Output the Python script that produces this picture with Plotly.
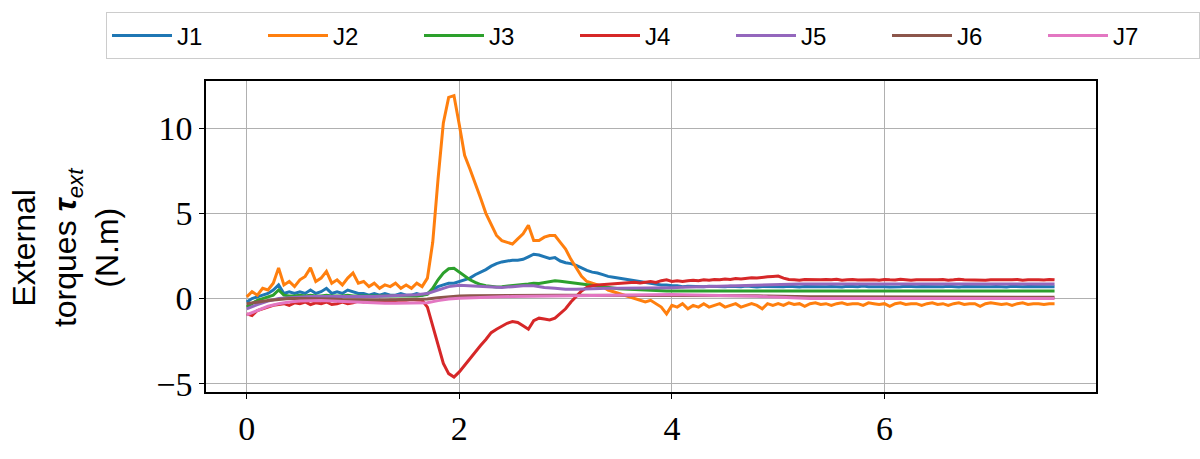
import plotly.graph_objects as go

# ---- data ----
series_names = ["J1", "J2", "J3", "J4", "J5", "J6", "J7"]
colors = ["#1f77b4", "#ff7f0e", "#2ca02c", "#d62728", "#9467bd", "#8c564b", "#e377c2"]

DT_FINE = 0.05    # sampling step of the noisy series (s)
DT_COARSE = 0.1   # sampling step of the smooth series (s)

J1 = [-0.2, 0.0, 0.1, 0.2, 0.3, 0.5, 0.8, 0.3, 0.4, 0.3,
      0.4, 0.3, 0.5, 0.3, 0.4, 0.6, 0.3, 0.4, 0.3, 0.5,
      0.4, 0.3, 0.3, 0.2, 0.3, 0.2, 0.3, 0.2, 0.2, 0.3,
      0.2, 0.2, 0.3, 0.2, 0.3, 0.5, 0.7, 0.8, 0.9, 0.9,
      1.0, 1.1, 1.2, 1.4, 1.55, 1.7, 1.9, 2.05, 2.15, 2.2,
      2.25, 2.25, 2.3, 2.45, 2.6, 2.55, 2.45, 2.35, 2.4, 2.2,
      2.1, 2.05, 1.95, 1.8, 1.65, 1.55, 1.5, 1.4, 1.3, 1.25,
      1.2, 1.15, 1.1, 1.05, 1.0, 0.95, 0.9, 0.85, 0.8, 0.8,
      0.75, 0.75, 0.7, 0.72, 0.7, 0.68, 0.7, 0.72, 0.7, 0.68,
      0.7, 0.72, 0.69, 0.7, 0.73, 0.7, 0.68, 0.71, 0.7, 0.72,
      0.7, 0.69, 0.72, 0.7, 0.68, 0.71, 0.7, 0.73, 0.7, 0.69,
      0.71, 0.7, 0.68, 0.72, 0.7, 0.7, 0.73, 0.69, 0.7, 0.71,
      0.7, 0.68, 0.71, 0.7, 0.72, 0.7, 0.69, 0.71, 0.7, 0.72,
      0.69, 0.7, 0.72, 0.7, 0.68, 0.71, 0.7, 0.7, 0.72, 0.69,
      0.7, 0.71, 0.7, 0.68, 0.72, 0.7, 0.69, 0.71, 0.7, 0.7,
      0.71, 0.7, 0.7]

J2 = [0.1, 0.4, 0.2, 0.6, 0.5, 0.9, 1.8, 0.8, 1.0, 0.7,
      1.1, 1.3, 1.8, 1.0, 1.2, 1.6, 0.9, 1.1, 0.8, 1.2,
      1.5, 0.9, 1.0, 0.7, 0.9, 0.6, 0.8, 0.7, 0.9, 0.6,
      0.8, 0.6, 0.9, 0.7, 1.2, 3.3, 7.0, 10.3, 11.8, 11.9,
      10.2, 8.4, 7.6, 6.8, 5.9, 5.0, 4.3, 3.7, 3.4, 3.3,
      3.2, 3.5, 3.8, 4.3, 3.4, 3.4, 3.6, 3.7, 3.7, 3.3,
      2.9, 2.3, 1.8, 1.3, 1.0, 0.9, 0.8, 0.7, 0.5, 0.4,
      0.3, 0.2, 0.1, 0.0, -0.1, -0.2, -0.1, -0.3, -0.5, -0.9,
      -0.4, -0.5, -0.3, -0.6, -0.4, -0.5, -0.3, -0.5, -0.4, -0.3,
      -0.5, -0.4, -0.3, -0.5, -0.4, -0.3, -0.4, -0.6, -0.3, -0.4,
      -0.3, -0.4, -0.25, -0.35, -0.3, -0.45, -0.3, -0.25, -0.35, -0.3,
      -0.4, -0.3, -0.25, -0.35, -0.3, -0.3, -0.4, -0.25, -0.3, -0.35,
      -0.3, -0.45, -0.3, -0.25, -0.35, -0.3, -0.3, -0.4, -0.3, -0.25,
      -0.35, -0.3, -0.4, -0.3, -0.25, -0.35, -0.3, -0.3, -0.45, -0.3,
      -0.25, -0.3, -0.35, -0.3, -0.4, -0.3, -0.25, -0.35, -0.3, -0.3,
      -0.35, -0.3, -0.3]

J3 = [-0.5, -0.3, -0.1, 0.0, 0.1, 0.2, 0.5, 0.2, 0.15, 0.15,
      0.2, 0.15, 0.2, 0.15, 0.15, 0.2, 0.15, 0.15, 0.15, 0.2,
      0.15, 0.15, 0.15, 0.15, 0.15, 0.15, 0.15, 0.15, 0.15, 0.15,
      0.15, 0.15, 0.15, 0.2, 0.25, 0.6, 1.1, 1.5, 1.75, 1.78,
      1.55, 1.3, 1.1, 0.95, 0.82, 0.75, 0.7, 0.68, 0.7, 0.72,
      0.75, 0.78, 0.82, 0.85, 0.9, 0.88, 0.95, 1.0, 1.05, 1.02,
      0.98, 0.92, 0.88, 0.82, 0.78, 0.75, 0.7, 0.66, 0.62, 0.6,
      0.58, 0.56, 0.54, 0.52, 0.5, 0.49, 0.48, 0.47, 0.46, 0.45,
      0.45, 0.43, 0.46, 0.44, 0.45, 0.47, 0.44, 0.45, 0.43, 0.46,
      0.45, 0.44, 0.46, 0.45, 0.43, 0.45, 0.47, 0.44, 0.45, 0.46,
      0.44, 0.45, 0.43, 0.46, 0.45, 0.44, 0.46, 0.45, 0.43, 0.45,
      0.46, 0.44, 0.45, 0.47, 0.44, 0.45, 0.43, 0.46, 0.45, 0.44,
      0.45, 0.46, 0.44, 0.45, 0.43, 0.45, 0.46, 0.44, 0.45, 0.47,
      0.44, 0.45, 0.46, 0.43, 0.45, 0.44, 0.46, 0.45, 0.44, 0.45,
      0.46, 0.44, 0.45, 0.43, 0.46, 0.45, 0.44, 0.45, 0.46, 0.44,
      0.45, 0.44, 0.45]

J4 = [-0.9, -1.0, -0.7, -0.6, -0.5, -0.4, -0.35, -0.3, -0.4, -0.25,
      -0.3, -0.2, -0.35, -0.25, -0.3, -0.2, -0.35, -0.3, -0.2, -0.3,
      -0.25, -0.15, -0.2, -0.15, -0.2, -0.1, -0.15, -0.1, -0.12, -0.08,
      -0.1, -0.05, -0.08, -0.1, -0.5, -1.6, -2.8, -3.8, -4.4, -4.6,
      -4.3, -3.9, -3.5, -3.1, -2.75, -2.4, -2.0, -1.8, -1.6, -1.45,
      -1.35, -1.4, -1.6, -1.8, -1.3, -1.15, -1.2, -1.25, -1.15, -0.9,
      -0.6, -0.2, 0.15, 0.45, 0.65, 0.75, 0.8, 0.82, 0.85, 0.85,
      0.88, 0.9, 0.9, 0.95, 0.92, 0.95, 1.0, 0.95, 1.05, 1.1,
      1.0, 1.05, 1.0, 1.05, 1.08, 1.05, 1.1, 1.08, 1.12, 1.1,
      1.15, 1.12, 1.18, 1.15, 1.2, 1.22, 1.2, 1.25, 1.28, 1.3,
      1.32, 1.2, 1.12, 1.1, 1.08, 1.12, 1.1, 1.08, 1.1, 1.12,
      1.1, 1.13, 1.08, 1.1, 1.12, 1.09, 1.1, 1.13, 1.1, 1.08,
      1.12, 1.1, 1.09, 1.13, 1.1, 1.08, 1.11, 1.1, 1.13, 1.09,
      1.1, 1.12, 1.08, 1.1, 1.13, 1.1, 1.09, 1.12, 1.1, 1.08,
      1.11, 1.1, 1.13, 1.09, 1.1, 1.12, 1.08, 1.1, 1.12, 1.1,
      1.09, 1.12, 1.1]

J5 = [-0.6, -0.35, -0.15, 0.0, 0.05, 0.1, 0.12, 0.12, 0.12, 0.1,
      0.1, 0.1, 0.12, 0.15, 0.17, 0.2, 0.22, 0.3, 0.5, 0.7,
      0.78, 0.75, 0.7, 0.65, 0.65, 0.7, 0.75, 0.75, 0.65, 0.6,
      0.55, 0.55, 0.58, 0.6, 0.6, 0.6, 0.6, 0.6, 0.6, 0.62,
      0.64, 0.66, 0.68, 0.7, 0.72, 0.74, 0.76, 0.78, 0.8, 0.83,
      0.85, 0.85, 0.85, 0.85, 0.85, 0.85, 0.85, 0.85, 0.85, 0.85,
      0.85, 0.85, 0.85, 0.85, 0.85, 0.85, 0.85, 0.85, 0.85, 0.85,
      0.85, 0.85, 0.85, 0.85, 0.85, 0.85, 0.85]

J6 = [-0.3, -0.2, -0.12, -0.05, 0.0, 0.0, 0.0, 0.0, -0.02, -0.05,
      -0.07, -0.08, -0.08, -0.08, -0.07, -0.06, -0.05, -0.02, 0.05, 0.12,
      0.15, 0.16, 0.17, 0.18, 0.18, 0.19, 0.2, 0.2, 0.2, 0.2,
      0.2, 0.2, 0.2, 0.2, 0.2, 0.2, 0.2, 0.2, 0.2, 0.2,
      0.2, 0.2, 0.19, 0.19, 0.18, 0.18, 0.17, 0.17, 0.16, 0.15,
      0.13, 0.12, 0.11, 0.1, 0.1, 0.1, 0.1, 0.1, 0.1, 0.1,
      0.1, 0.1, 0.09, 0.09, 0.09, 0.09, 0.08, 0.08, 0.08, 0.08,
      0.08, 0.08, 0.08, 0.08, 0.08, 0.08, 0.08]

J7 = [-0.95, -0.7, -0.45, -0.3, -0.2, -0.15, -0.12, -0.12, -0.15, -0.18,
      -0.2, -0.22, -0.25, -0.27, -0.28, -0.28, -0.28, -0.25, -0.12, -0.02,
      0.02, 0.05, 0.07, 0.08, 0.1, 0.12, 0.13, 0.15, 0.16, 0.17,
      0.18, 0.19, 0.2, 0.21, 0.22, 0.23, 0.24, 0.25, 0.25, 0.25,
      0.24, 0.23, 0.22, 0.21, 0.2, 0.19, 0.18, 0.17, 0.14, 0.1,
      0.07, 0.04, 0.02, 0.01, 0.0, 0.0, 0.0, 0.0, 0.0, 0.0,
      0.0, 0.0, 0.0, 0.0, 0.0, 0.0, 0.0, 0.0, 0.0, 0.0,
      0.0, 0.0, 0.0, 0.0, 0.0, 0.0, 0.0]

x_ticks = [0, 2, 4, 6]
y_ticks = [-5, 0, 5, 10]

all_series = [(J1, DT_FINE), (J2, DT_FINE), (J3, DT_FINE), (J4, DT_FINE),
              (J5, DT_COARSE), (J6, DT_COARSE), (J7, DT_COARSE)]

# ---- figure ----
fig = go.Figure()
for name, color, (vals, dt) in zip(series_names, colors, all_series):
    t = [round(i * dt, 3) for i in range(len(vals))]
    fig.add_trace(go.Scatter(x=t, y=vals, mode="lines", name=name,
                             line=dict(color=color, width=3)))

tick_font = dict(family="Liberation Serif", size=34, color="black")
axis_common = dict(showgrid=True, gridcolor="#b0b0b0", gridwidth=1,
                   zeroline=False, showline=True, linecolor="black", linewidth=1.5,
                   mirror=True, ticks="outside", ticklen=5, tickwidth=1.2,
                   tickcolor="black", tickfont=tick_font)

fig.update_layout(
    width=1200, height=459,
    margin=dict(l=206, r=104, t=81, b=47),
    paper_bgcolor="white", plot_bgcolor="white",
    xaxis=dict(range=[-0.383, 7.99], tickvals=x_ticks, **axis_common),
    yaxis=dict(range=[-5.48, 12.76], tickvals=y_ticks, **axis_common),
    legend=dict(orientation="h", x=-0.1112, xanchor="left", y=1.2207, yanchor="top",
                itemwidth=60, entrywidth=81, entrywidthmode="pixels",
                bgcolor="white", bordercolor="#cccccc", borderwidth=1,
                font=dict(family="Liberation Sans", size=24, color="black")),
    annotations=[dict(
        text="External<br>torques <b><i>τ</i></b><sub><i>ext</i></sub><br>(N.m)",
        xref="paper", yref="paper", x=-0.158, y=0.464,
        xanchor="center", yanchor="middle", textangle=-90, showarrow=False,
        font=dict(family="Liberation Sans", size=32, color="black"))],
)

fig.write_html("out.html")
